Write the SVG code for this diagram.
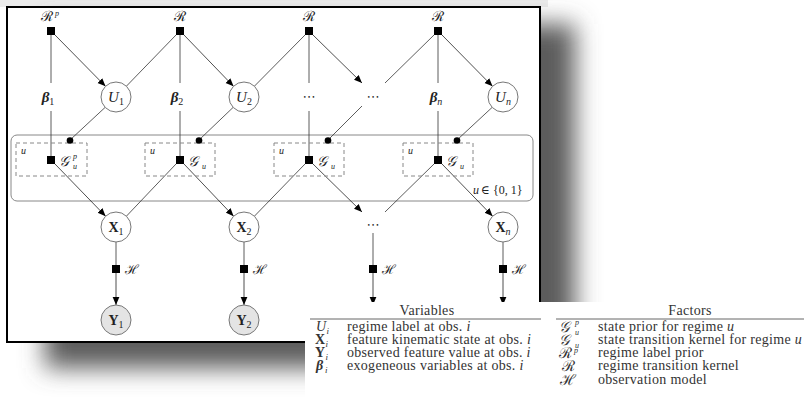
<svg xmlns="http://www.w3.org/2000/svg" width="804" height="397" viewBox="0 0 804 397">
  <defs>
    <marker id="arr" viewBox="0 0 10 10" refX="10" refY="5" markerWidth="8" markerHeight="8" markerUnits="userSpaceOnUse" orient="auto">
      <path d="M0,0.8 L10,5 L0,9.2 Z" fill="#000"/>
    </marker>
    <filter id="soft" x="-20%" y="-20%" width="140%" height="140%">
      <feGaussianBlur stdDeviation="12"/>
    </filter>
    <style>
      .m { font-family: "Liberation Serif", "DejaVu Serif", serif; fill: #222; }
      .it { font-style: italic; }
      .bf { font-weight: bold; }
      .dots { font-family: "DejaVu Sans", sans-serif; fill: #333; font-size: 13px; letter-spacing: 2px; }
      .node { fill: #fff; stroke: #777; stroke-width: 1; }
      .obs { fill: #e4e4e4; stroke: #777; stroke-width: 1; }
      .fac { fill: #000; }
      .edge { stroke: #333; stroke-width: 0.8; fill: none; }
      .arrow { stroke: #222; stroke-width: 0.8; fill: none; marker-end: url(#arr); }
      .plate { fill: none; stroke: #888; stroke-width: 1; }
      .gate { fill: none; stroke: #888; stroke-width: 1; stroke-dasharray: 4 3; }
      .tt { font-family: "Liberation Serif", "DejaVu Serif", serif; font-size: 14px; letter-spacing: 0.3px; fill: #333; }
      .sub { font-family: "Liberation Serif", "DejaVu Serif", serif; font-size: 9px; font-style: italic; fill: #333; }
      .sym { font-family: "Liberation Serif", "DejaVu Serif", serif; font-size: 15px; fill: #333; }
      .rule { stroke: #666; stroke-width: 1; }
    </style>
  </defs>

  <!-- page background and drop shadow of the figure frame -->
  <rect x="0" y="0" width="804" height="397" fill="#fff"/>
  <rect x="0" y="0" width="548" height="7" fill="#ececec"/>
  <rect x="45" y="24" width="530" height="344" fill="#5c5c5c" filter="url(#soft)"/>
  <rect x="7" y="7" width="533" height="335" fill="#fff" stroke="#000" stroke-width="2"/>

  <!-- plate over regimes u -->
  <g id="plate">
    <rect class="plate" x="11" y="135" width="522" height="66" rx="6"/>
    <text class="m it" x="473" y="194" font-size="12">u</text>
    <text class="m" x="481" y="194" font-size="12">∈ {0, 1}</text>
  </g>

  <!-- connectors -->
  <g id="connectors">
    <!-- factor to regime label -->
    <line class="arrow" x1="55" y1="35" x2="105.5" y2="86.3"/>
    <line class="edge" x1="176" y1="35" x2="126.4" y2="86.2"/>
    <line class="arrow" x1="184" y1="35" x2="233.5" y2="86.3"/>
    <line class="edge" x1="305" y1="35" x2="254.4" y2="86.2"/>
    <line class="arrow" x1="313" y1="35" x2="362" y2="83"/>
    <line class="edge" x1="434" y1="35" x2="385" y2="83"/>
    <line class="arrow" x1="442" y1="35" x2="492.5" y2="86.3"/>
    <!-- exogeneous inputs into the transition factors -->
    <line class="edge" x1="51" y1="31" x2="51" y2="83"/>
    <line class="edge" x1="51" y1="111" x2="51" y2="160"/>
    <line class="edge" x1="180" y1="31" x2="180" y2="83"/>
    <line class="edge" x1="180" y1="111" x2="180" y2="160"/>
    <line class="edge" x1="309" y1="31" x2="309" y2="83"/>
    <line class="edge" x1="309" y1="111" x2="309" y2="160"/>
    <line class="edge" x1="438" y1="31" x2="438" y2="83"/>
    <line class="edge" x1="438" y1="111" x2="438" y2="160"/>
    <!-- regime label gates -->
    <line class="edge" x1="105" y1="107.5" x2="70" y2="140"/>
    <line class="edge" x1="233" y1="107.5" x2="199" y2="140"/>
    <line class="edge" x1="362" y1="106" x2="328" y2="140"/>
    <line class="edge" x1="492" y1="107.5" x2="457" y2="140"/>
    <!-- state transitions -->
    <line class="arrow" x1="55" y1="164" x2="105.6" y2="216.2"/>
    <line class="edge" x1="176" y1="164" x2="126.4" y2="216.2"/>
    <line class="arrow" x1="184" y1="164" x2="233.6" y2="216.2"/>
    <line class="edge" x1="305" y1="164" x2="254.4" y2="216.2"/>
    <line class="arrow" x1="313" y1="164" x2="362" y2="212"/>
    <line class="edge" x1="434" y1="164" x2="385" y2="212"/>
    <line class="arrow" x1="442" y1="164" x2="492.6" y2="216.2"/>
    <!-- observation model -->
    <line class="edge" x1="116" y1="242" x2="116" y2="269"/>
    <line class="arrow" x1="116" y1="269" x2="116" y2="305"/>
    <line class="edge" x1="244" y1="242" x2="244" y2="269"/>
    <line class="arrow" x1="244" y1="269" x2="244" y2="305"/>
    <line class="edge" x1="373" y1="233" x2="373" y2="269"/>
    <line class="arrow" x1="373" y1="269" x2="373" y2="305"/>
    <line class="edge" x1="503" y1="242" x2="503" y2="269"/>
    <line class="arrow" x1="503" y1="269" x2="503" y2="305"/>
  </g>

  <!-- regime factors -->
  <g id="Rp">
    <rect class="fac" x="47" y="27" width="8" height="8"/>
    <text class="m" x="47" y="21" font-size="14" text-anchor="middle">ℛ</text>
    <text class="m it" x="55" y="16" font-size="8">p</text>
  </g>
  <g id="R2">
    <rect class="fac" x="176" y="27" width="8" height="8"/>
    <text class="m" x="180" y="21" font-size="14" text-anchor="middle">ℛ</text>
  </g>
  <g id="R3">
    <rect class="fac" x="305" y="27" width="8" height="8"/>
    <text class="m" x="309" y="21" font-size="14" text-anchor="middle">ℛ</text>
  </g>
  <g id="Rn">
    <rect class="fac" x="434" y="27" width="8" height="8"/>
    <text class="m" x="438" y="21" font-size="14" text-anchor="middle">ℛ</text>
  </g>

  <!-- exogeneous variables -->
  <g id="beta1"><text class="m it bf" x="48" y="102" font-size="15" text-anchor="middle">β<tspan font-size="10" font-style="normal" font-weight="normal" dy="3">1</tspan></text></g>
  <g id="beta2"><text class="m it bf" x="177" y="102" font-size="15" text-anchor="middle">β<tspan font-size="10" font-style="normal" font-weight="normal" dy="3">2</tspan></text></g>
  <g id="beta-dots"><text class="dots" x="310" y="101" text-anchor="middle">⋯</text></g>
  <g id="betan"><text class="m it bf" x="436" y="102" font-size="15" text-anchor="middle">β<tspan font-size="10" font-weight="normal" dy="3">n</tspan></text></g>

  <!-- regime labels -->
  <g id="U1">
    <circle class="node" cx="116" cy="97" r="15"/>
    <text class="m" x="116" y="102" font-size="15" text-anchor="middle"><tspan class="it">U</tspan><tspan font-size="10" dy="3">1</tspan></text>
  </g>
  <g id="U2">
    <circle class="node" cx="244" cy="97" r="15"/>
    <text class="m" x="244" y="102" font-size="15" text-anchor="middle"><tspan class="it">U</tspan><tspan font-size="10" dy="3">2</tspan></text>
  </g>
  <g id="U-dots"><text class="dots" x="374" y="101" text-anchor="middle">⋯</text></g>
  <g id="Un">
    <circle class="node" cx="503" cy="97" r="15"/>
    <text class="m" x="503" y="102" font-size="15" text-anchor="middle"><tspan class="it">U</tspan><tspan class="it" font-size="10" dy="3">n</tspan></text>
  </g>

  <!-- gated state transition factors -->
  <g id="G1">
    <rect class="gate" x="16" y="143" width="71" height="33"/>
    <text class="m it" x="21" y="154" font-size="10">u</text>
    <circle cx="70" cy="140.5" r="3.3" fill="#000"/>
    <rect class="fac" x="47" y="156" width="8" height="8"/>
    <text class="m it" x="59" y="166" font-size="14">𝒢</text>
    <text class="m it" x="73" y="159" font-size="8">p</text>
    <text class="m it" x="73" y="169" font-size="8">u</text>
  </g>
  <g id="G2">
    <rect class="gate" x="145" y="143" width="70" height="33"/>
    <text class="m it" x="150" y="154" font-size="10">u</text>
    <circle cx="199" cy="140.5" r="3.3" fill="#000"/>
    <rect class="fac" x="176" y="156" width="8" height="8"/>
    <text class="m it" x="188" y="166" font-size="14">𝒢</text>
    <text class="m it" x="202" y="169" font-size="8">u</text>
  </g>
  <g id="G3">
    <rect class="gate" x="274" y="143" width="70" height="33"/>
    <text class="m it" x="279" y="154" font-size="10">u</text>
    <circle cx="328" cy="140.5" r="3.3" fill="#000"/>
    <rect class="fac" x="305" y="156" width="8" height="8"/>
    <text class="m it" x="317" y="166" font-size="14">𝒢</text>
    <text class="m it" x="331" y="169" font-size="8">u</text>
  </g>
  <g id="Gn">
    <rect class="gate" x="403" y="143" width="70" height="33"/>
    <text class="m it" x="408" y="154" font-size="10">u</text>
    <circle cx="457" cy="140.5" r="3.3" fill="#000"/>
    <rect class="fac" x="434" y="156" width="8" height="8"/>
    <text class="m it" x="446" y="166" font-size="14">𝒢</text>
    <text class="m it" x="460" y="169" font-size="8">u</text>
  </g>

  <!-- kinematic states -->
  <g id="X1">
    <circle class="node" cx="116" cy="227" r="15"/>
    <text class="m" x="116" y="232" font-size="14" text-anchor="middle"><tspan class="bf">X</tspan><tspan font-size="10" dy="3">1</tspan></text>
  </g>
  <g id="X2">
    <circle class="node" cx="244" cy="227" r="15"/>
    <text class="m" x="244" y="232" font-size="14" text-anchor="middle"><tspan class="bf">X</tspan><tspan font-size="10" dy="3">2</tspan></text>
  </g>
  <g id="X-dots"><text class="dots" x="374" y="229" text-anchor="middle">⋯</text></g>
  <g id="Xn">
    <circle class="node" cx="503" cy="227" r="15"/>
    <text class="m" x="503" y="232" font-size="14" text-anchor="middle"><tspan class="bf">X</tspan><tspan class="it" font-size="10" dy="3">n</tspan></text>
  </g>

  <!-- observation factors -->
  <g id="H1"><rect class="fac" x="112" y="265" width="8" height="8"/><text class="m" x="125" y="274" font-size="13">ℋ</text></g>
  <g id="H2"><rect class="fac" x="240" y="265" width="8" height="8"/><text class="m" x="253" y="274" font-size="13">ℋ</text></g>
  <g id="H3"><rect class="fac" x="369" y="265" width="8" height="8"/><text class="m" x="382" y="274" font-size="13">ℋ</text></g>
  <g id="Hn"><rect class="fac" x="499" y="265" width="8" height="8"/><text class="m" x="512" y="274" font-size="13">ℋ</text></g>

  <!-- observed feature values -->
  <g id="Y1">
    <circle class="obs" cx="116" cy="320" r="15"/>
    <text class="m" x="116" y="325" font-size="14" text-anchor="middle"><tspan class="bf">Y</tspan><tspan font-size="10" dy="3">1</tspan></text>
  </g>
  <g id="Y2">
    <circle class="obs" cx="244" cy="320" r="15"/>
    <text class="m" x="244" y="325" font-size="14" text-anchor="middle"><tspan class="bf">Y</tspan><tspan font-size="10" dy="3">2</tspan></text>
  </g>

  <!-- legend panel -->
  <g id="legend">
    <rect x="305" y="302" width="499" height="95" fill="#fff"/>
    <text class="tt" x="427" y="315" text-anchor="middle">Variables</text>
    <line class="rule" x1="310" y1="319" x2="541" y2="319"/>
    <text class="tt it" x="316" y="331">U</text>
    <text class="sub" x="326.5" y="334">i</text>
    <text class="tt" x="347" y="331">regime label at obs. <tspan class="it">i</tspan></text>
    <text class="tt bf" x="315" y="344">X</text>
    <text class="sub" x="325.5" y="347">i</text>
    <text class="tt" x="347" y="344">feature kinematic state at obs. <tspan class="it">i</tspan></text>
    <text class="tt bf" x="315" y="357">Y</text>
    <text class="sub" x="325.5" y="360">i</text>
    <text class="tt" x="347" y="357">observed feature value at obs. <tspan class="it">i</tspan></text>
    <text class="tt it bf" x="316" y="370">β</text>
    <text class="sub" x="325" y="373">i</text>
    <text class="tt" x="347" y="370">exogeneous variables at obs. <tspan class="it">i</tspan></text>

    <text class="tt" x="690" y="315" text-anchor="middle">Factors</text>
    <line class="rule" x1="556" y1="319" x2="804" y2="319"/>
    <text class="sym it" x="559" y="332">𝒢</text>
    <text class="sub" x="575" y="325" style="font-size:8px">p</text>
    <text class="sub" x="575" y="335" style="font-size:8px">u</text>
    <text class="tt" x="598" y="331">state prior for regime <tspan class="it">u</tspan></text>
    <text class="sym it" x="559" y="345">𝒢</text>
    <text class="sub" x="575" y="348" style="font-size:8px">u</text>
    <text class="tt" x="598" y="344">state transition kernel for regime <tspan class="it">u</tspan></text>
    <text class="sym" x="559" y="358">ℛ</text>
    <text class="sub" x="574" y="353" style="font-size:8px">p</text>
    <text class="tt" x="598" y="357">regime label prior</text>
    <text class="sym" x="568" y="371" text-anchor="middle">ℛ</text>
    <text class="tt" x="598" y="370">regime transition kernel</text>
    <text class="sym" x="568" y="385" text-anchor="middle">ℋ</text>
    <text class="tt" x="598" y="384">observation model</text>
  </g>
</svg>
